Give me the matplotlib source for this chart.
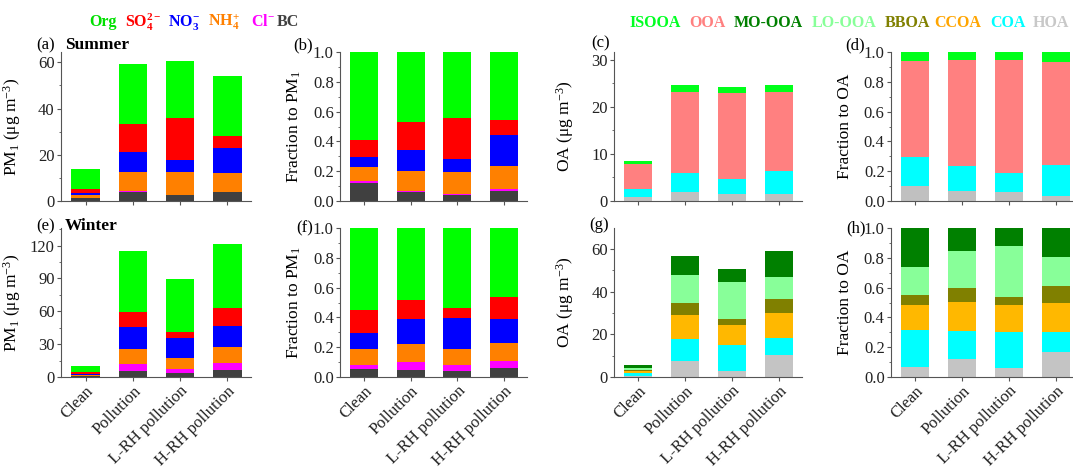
import numpy as np
import matplotlib
matplotlib.use('Agg')
import matplotlib.pyplot as plt
from matplotlib.ticker import MultipleLocator, AutoMinorLocator

plt.rcParams['font.family'] = ['Liberation Serif', 'DejaVu Serif']
plt.rcParams['mathtext.fontset'] = 'custom'
plt.rcParams['mathtext.rm'] = 'Liberation Serif'
plt.rcParams['mathtext.it'] = 'Liberation Serif:italic'
plt.rcParams['mathtext.bf'] = 'Liberation Serif:bold'

W, H = 1073, 471

cases = ["Clean", "Pollution", "L-RH pollution", "H-RH pollution"]

# PM1 species (bottom -> top): BC, Cl, NH4, NO3, SO4, Org
pm_colors = ["#404040", "#ff00ff", "#ff8000", "#0000ff", "#ff0000", "#00ff00"]

summer_pm = [  # ug m-3, rows = species, cols = cases
    [1.3, 3.9, 2.5, 3.8],
    [0.2, 0.3, 0.2, 0.2],
    [1.2, 8.5, 10.0, 8.0],
    [0.9, 8.7, 5.1, 11.1],
    [1.6, 12.0, 18.2, 5.2],
    [8.7, 25.8, 24.7, 25.7],
]
summer_pm_frac = [
    [0.120, 0.062, 0.038, 0.069],
    [0.016, 0.007, 0.007, 0.009],
    [0.094, 0.134, 0.151, 0.156],
    [0.062, 0.141, 0.083, 0.210],
    [0.118, 0.187, 0.279, 0.101],
    [0.590, 0.469, 0.442, 0.455],
]
winter_pm = [
    [0.6, 5.6, 3.7, 6.5],
    [0.3, 6.2, 3.8, 6.6],
    [1.1, 13.4, 9.6, 14.3],
    [1.0, 20.0, 18.7, 19.0],
    [1.6, 13.7, 5.7, 16.9],
    [5.7, 56.1, 48.0, 58.0],
]
winter_pm_frac = [
    [0.052, 0.047, 0.038, 0.058],
    [0.031, 0.054, 0.043, 0.050],
    [0.103, 0.121, 0.107, 0.123],
    [0.108, 0.170, 0.209, 0.155],
    [0.154, 0.124, 0.067, 0.150],
    [0.552, 0.484, 0.536, 0.464],
]

# OA factors, summer: HOA, COA, OOA, ISOOA
summer_oa_colors = ["#c0c0c0", "#00ffff", "#ff8080", "#00ff1a"]
summer_oa = [
    [0.85, 1.84, 1.56, 1.56],
    [1.65, 4.06, 3.11, 4.74],
    [5.4, 17.2, 18.23, 16.9],
    [0.5, 1.5, 1.3, 1.4],
]
summer_oa_frac = [
    [0.098, 0.069, 0.062, 0.033],
    [0.199, 0.168, 0.125, 0.208],
    [0.645, 0.707, 0.762, 0.692],
    [0.058, 0.056, 0.051, 0.067],
]
# winter: HOA, COA, CCOA, BBOA, LO-OOA, MO-OOA
winter_oa_colors = ["#c4c4c4", "#00ffff", "#ffb800", "#808000", "#88ff99", "#008000"]
winter_oa = [
    [0.36, 7.3, 2.8, 10.3],
    [1.40, 10.7, 12.0, 7.8],
    [0.94, 11.1, 9.6, 11.7],
    [0.38, 5.4, 2.8, 6.9],
    [1.06, 13.5, 17.2, 10.3],
    [1.46, 8.9, 6.1, 12.2],
]
winter_oa_frac = [
    [0.065, 0.121, 0.061, 0.168],
    [0.251, 0.191, 0.239, 0.137],
    [0.168, 0.190, 0.184, 0.193],
    [0.065, 0.094, 0.056, 0.112],
    [0.191, 0.247, 0.339, 0.195],
    [0.260, 0.157, 0.121, 0.195],
]

fig = plt.figure(figsize=(W / 100, H / 100), dpi=100)


def px_axes(x0, y0, x1, y1):
    return fig.add_axes([x0 / W, 1 - y1 / H, (x1 - x0) / W, (y1 - y0) / H])


def stacked(ax, data, colors, ylim, major, ylabel, label_x=True):
    x = np.arange(len(cases))
    bottom = np.zeros(len(cases))
    for vals, c in zip(data, colors):
        vals = np.array(vals, dtype=float)
        ax.bar(x, vals, 0.6, bottom=bottom, color=c, linewidth=0)
        bottom += vals
    ax.set_xlim(-0.52, 3.5)
    ax.set_ylim(*ylim)
    ax.yaxis.set_major_locator(MultipleLocator(major))
    ax.yaxis.set_minor_locator(AutoMinorLocator(2))
    if major < 1:
        ax.yaxis.set_major_formatter(plt.FormatStrFormatter('%.1f'))
    ax.set_xticks(x)
    if label_x:
        ax.set_xticklabels(cases, rotation=45, ha='right', rotation_mode='anchor', fontsize=11.5)
    else:
        ax.set_xticklabels([])
    for s in ['top', 'right']:
        ax.spines[s].set_visible(False)
    for s in ['left', 'bottom']:
        ax.spines[s].set_color('#555555')
        ax.spines[s].set_linewidth(0.8)
    ax.tick_params(axis='both', which='both', direction='out', color='#555555',
                   labelsize=12, colors='#222222', pad=1.5)
    ax.tick_params(axis='both', which='major', length=3)
    ax.tick_params(axis='y', which='minor', length=1.8)
    ax.set_ylabel(ylabel, fontsize=12.5)
    ax.yaxis.set_label_coords(-0.2, 0.5)


pm_lab = "PM$_1$ (μg m$^{-3}$)"
oa_lab = "OA (μg m$^{-3}$)"

ax_a = px_axes(61, 52, 251, 201)
stacked(ax_a, summer_pm, pm_colors, (0, 64.5), 20, pm_lab, False)
ax_b = px_axes(340, 52, 527, 201)
stacked(ax_b, summer_pm_frac, pm_colors, (0, 1.0), 0.2, "Fraction to PM$_1$", False)
ax_c = px_axes(614, 52, 802, 201)
stacked(ax_c, summer_oa, summer_oa_colors, (0, 31.6), 10, oa_lab, False)
ax_d = px_axes(891, 52, 1079, 201)
stacked(ax_d, summer_oa_frac, summer_oa_colors, (0, 1.0), 0.2, "Fraction to OA", False)

ax_e = px_axes(61, 228, 251, 377)
stacked(ax_e, winter_pm, pm_colors, (0, 136), 30, pm_lab)
ax_f = px_axes(340, 228, 527, 377)
stacked(ax_f, winter_pm_frac, pm_colors, (0, 1.0), 0.2, "Fraction to PM$_1$")
ax_g = px_axes(614, 228, 802, 377)
stacked(ax_g, winter_oa, winter_oa_colors, (0, 69.8), 20, oa_lab)
ax_h = px_axes(891, 228, 1079, 377)
stacked(ax_h, winter_oa_frac, winter_oa_colors, (0, 1.0), 0.2, "Fraction to OA")


def ftext(x, y, s, **kw):
    fig.text(x / W, 1 - y / H, s, va='center', **kw)


# panel labels
ftext(36, 45, "(a)", fontsize=12)
ftext(65, 45, "Summer", fontsize=12.5, fontweight='bold')
ftext(293, 45, "(b)", fontsize=12)
ftext(591, 43, "(c)", fontsize=12)
ftext(845, 45, "(d)", fontsize=12)
ftext(36, 226, "(e)", fontsize=12)
ftext(65, 226, "Winter", fontsize=12.5, fontweight='bold')
ftext(296, 228, "(f)", fontsize=12)
ftext(589, 225, "(g)", fontsize=12)
ftext(846, 228, "(h)", fontsize=12)

# color keys
pm_keys = ["Org", r"$\mathbf{SO_4^{2-}}$", r"$\mathbf{NO_3^{-}}$", r"$\mathbf{NH_4^{+}}$",
           r"$\mathbf{Cl^{-}}$", "BC"]
pm_key_colors = ["#00e000", "#ff0000", "#0000ff", "#ff8000", "#ff00ff", "#404040"]
pm_key_x = [89, 125, 168, 208, 251, 277]
for s, c, x in zip(pm_keys, pm_key_colors, pm_key_x):
    ftext(x, 22, s, color=c, fontsize=11.5, fontweight='bold')

oa_keys = ["ISOOA", "OOA", "MO-OOA", "LO-OOA", "BBOA", "CCOA", "COA", "HOA"]
oa_key_colors = ["#00ff22", "#ff8080", "#008000", "#88ff99", "#808000", "#ffa500", "#00ffff", "#c8c8c8"]
oa_key_x = [629, 689, 734, 812, 885, 934, 990, 1033]
for s, c, x in zip(oa_keys, oa_key_colors, oa_key_x):
    ftext(x, 23, s, color=c, fontsize=11.5, fontweight='bold')

fig.savefig("out.png", dpi=100, facecolor='white')
